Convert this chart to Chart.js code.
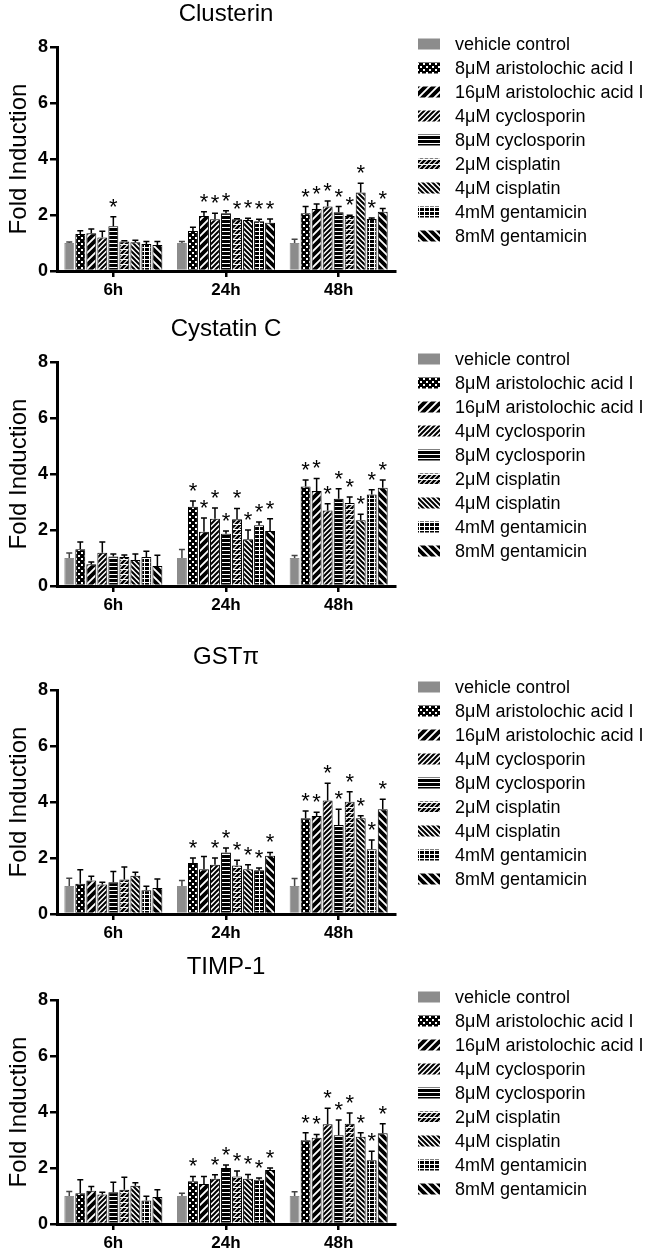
<!DOCTYPE html>
<html>
<head>
<meta charset="utf-8">
<script src="https://cdn.jsdelivr.net/npm/chart.js@4.4.1/dist/chart.umd.min.js"></script>
<style>
    html, body { margin: 0; padding: 0; background: #fff; width: 650px; height: 1250px; overflow: hidden; }
    .panel { position: absolute; left: 0; width: 650px; height: 310px; }
</style>
</head>
<body>
<div class="panel" style="top:0px"><canvas id="chart1" width="650" height="310"></canvas></div>
<div class="panel" style="top:315px"><canvas id="chart2" width="650" height="310"></canvas></div>
<div class="panel" style="top:643px"><canvas id="chart3" width="650" height="310"></canvas></div>
<div class="panel" style="top:953px"><canvas id="chart4" width="650" height="310"></canvas></div>
<script>
const timepoints = ['6h', '24h', '48h'];
const treatments = [
    'vehicle control',
    '8\u03bcM aristolochic acid I',
    '16\u03bcM aristolochic acid I',
    '4\u03bcM cyclosporin',
    '8\u03bcM cyclosporin',
    '2\u03bcM cisplatin',
    '4\u03bcM cisplatin',
    '4mM gentamicin',
    '8mM gentamicin'
];
const yTicks = [0, 2, 4, 6, 8];

// rows = timepoints, columns = treatments
const clusterinMean = [
    [1.0, 1.32, 1.35, 1.2, 1.6, 1.05, 1.03, 0.96, 0.93],
    [1.0, 1.43, 1.96, 1.85, 2.06, 1.85, 1.82, 1.78, 1.72],
    [1.0, 2.06, 2.21, 2.3, 2.1, 1.96, 2.8, 1.86, 2.12]
];
const clusterinErr = [
    [0.04, 0.12, 0.15, 0.22, 0.34, 0.03, 0.07, 0.09, 0.12],
    [0.05, 0.13, 0.16, 0.21, 0.09, 0.02, 0.06, 0.07, 0.14],
    [0.13, 0.24, 0.18, 0.2, 0.2, 0.03, 0.33, 0.03, 0.11]
];
const clusterinStars = [
    [0, 0, 0, 0, 1, 0, 0, 0, 0],
    [0, 0, 1, 1, 1, 1, 1, 1, 1],
    [0, 1, 1, 1, 1, 1, 1, 1, 1]
];

const cystatinMean = [
    [1.0, 1.31, 0.78, 1.19, 1.05, 1.04, 0.93, 1.04, 0.71],
    [1.0, 2.83, 1.94, 2.4, 1.87, 2.38, 1.67, 2.17, 1.96],
    [1.0, 3.55, 3.39, 2.7, 3.12, 2.96, 2.35, 3.27, 3.51]
];
const cystatinErr = [
    [0.18, 0.26, 0.08, 0.38, 0.09, 0.07, 0.21, 0.2, 0.39],
    [0.3, 0.21, 0.49, 0.39, 0.09, 0.39, 0.33, 0.12, 0.44],
    [0.09, 0.24, 0.45, 0.24, 0.35, 0.22, 0.21, 0.17, 0.28]
];
const cystatinStars = [
    [0, 0, 0, 0, 0, 0, 0, 0, 0],
    [0, 1, 1, 1, 1, 1, 1, 1, 1],
    [0, 1, 1, 1, 1, 1, 1, 1, 1]
];

const gstMean = [
    [1.0, 1.08, 1.2, 1.05, 1.13, 1.23, 1.37, 0.85, 0.93],
    [1.0, 1.82, 1.6, 1.76, 2.2, 1.73, 1.6, 1.56, 2.08],
    [1.0, 3.42, 3.5, 4.05, 3.18, 4.01, 3.42, 2.31, 3.74]
];
const gstErr = [
    [0.28, 0.5, 0.15, 0.08, 0.39, 0.45, 0.12, 0.14, 0.32],
    [0.2, 0.18, 0.45, 0.24, 0.16, 0.19, 0.16, 0.08, 0.12],
    [0.27, 0.26, 0.13, 0.62, 0.56, 0.36, 0.09, 0.33, 0.36]
];
const gstStars = [
    [0, 0, 0, 0, 0, 0, 0, 0, 0],
    [0, 1, 0, 1, 1, 1, 1, 1, 1],
    [0, 1, 1, 1, 1, 1, 1, 1, 1]
];

const timpMean = [
    [1.0, 1.1, 1.19, 1.05, 1.13, 1.22, 1.37, 0.84, 0.96],
    [1.0, 1.53, 1.43, 1.62, 2.0, 1.7, 1.62, 1.58, 1.93],
    [1.0, 2.99, 3.08, 3.56, 3.17, 3.58, 3.12, 2.28, 3.24]
];
const timpErr = [
    [0.16, 0.48, 0.15, 0.08, 0.36, 0.45, 0.1, 0.15, 0.26],
    [0.1, 0.17, 0.27, 0.14, 0.11, 0.19, 0.15, 0.06, 0.07],
    [0.15, 0.27, 0.12, 0.57, 0.54, 0.38, 0.14, 0.32, 0.34]
];
const timpStars = [
    [0, 0, 0, 0, 0, 0, 0, 0, 0],
    [0, 1, 0, 1, 1, 1, 1, 1, 1],
    [0, 1, 1, 1, 1, 1, 1, 1, 1]
];

const FONT = '"Liberation Sans", Arial, sans-serif';

// hatch fills, one per treatment
function stripes(size, width, back) {
    const c = document.createElement('canvas');
    c.width = size; c.height = size;
    const g = c.getContext('2d');
    g.fillStyle = '#fff';
    g.fillRect(0, 0, size, size);
    g.strokeStyle = '#000';
    g.lineWidth = width;
    g.beginPath();
    if (back) {
        g.moveTo(-size, 0); g.lineTo(size, 2 * size);
        g.moveTo(0, 0); g.lineTo(size, size);
        g.moveTo(0, -size); g.lineTo(2 * size, size);
    } else {
        g.moveTo(-size, size); g.lineTo(size, -size);
        g.moveTo(0, size); g.lineTo(size, 0);
        g.moveTo(0, 2 * size); g.lineTo(2 * size, 0);
    }
    g.stroke();
    return c;
}

function makePattern(kind) {
    let c = document.createElement('canvas');
    let g;
    if (kind === 'dots') {
        c.width = 6; c.height = 6;
        g = c.getContext('2d');
        g.fillStyle = '#000'; g.fillRect(0, 0, 6, 6);
        g.fillStyle = '#fff';
        g.fillRect(0, 0, 2, 2);
        g.fillRect(3, 3, 2, 2);
    } else if (kind === 'wideFwd') {
        c = stripes(8, 3.8, false);
    } else if (kind === 'thinFwd') {
        c = stripes(5, 2, false);
    } else if (kind === 'dashFwd') {
        c = stripes(5, 2.4, false);
        g = c.getContext('2d');
        g.fillStyle = '#fff';
        g.fillRect(0, 4, 5, 1);
    } else if (kind === 'thinBack') {
        c = stripes(5, 2, true);
    } else if (kind === 'wideBack') {
        c = stripes(8, 3.8, true);
    } else if (kind === 'hlines') {
        c.width = 4; c.height = 4;
        g = c.getContext('2d');
        g.fillStyle = '#000'; g.fillRect(0, 0, 4, 4);
        g.fillStyle = '#fff'; g.fillRect(0, 3, 4, 1);
    } else if (kind === 'grid') {
        c.width = 5; c.height = 4;
        g = c.getContext('2d');
        g.fillStyle = '#000'; g.fillRect(0, 0, 5, 4);
        g.fillStyle = '#fff';
        g.fillRect(0, 3, 5, 1);
        g.fillRect(4, 0, 1, 4);
    }
    return c.getContext('2d').createPattern(c, 'repeat');
}

const fills = [
    '#8c8c8c',
    makePattern('dots'),
    makePattern('wideFwd'),
    makePattern('thinFwd'),
    makePattern('hlines'),
    makePattern('dashFwd'),
    makePattern('thinBack'),
    makePattern('grid'),
    makePattern('wideBack')
];

// error bars, asterisks and the legend on the right
const extras = {
    id: 'extras',
    afterDatasetsDraw(chart) {
        const ctx = chart.ctx;
        const y = chart.scales.y;
        ctx.save();
        chart.data.datasets.forEach((ds, i) => {
            const meta = chart.getDatasetMeta(i);
            meta.data.forEach((bar, j) => {
                const top = y.getPixelForValue(ds.data[j] + ds.errors[j]);
                ctx.strokeStyle = i === 0 ? '#444' : '#000';
                ctx.lineWidth = 1.5;
                ctx.beginPath();
                ctx.moveTo(bar.x, bar.y);
                ctx.lineTo(bar.x, top);
                ctx.moveTo(bar.x - 3, top);
                ctx.lineTo(bar.x + 3, top);
                ctx.stroke();
                if (ds.stars[j]) {
                    ctx.fillStyle = '#000';
                    ctx.font = '22px ' + FONT;
                    ctx.textAlign = 'center';
                    ctx.textBaseline = 'alphabetic';
                    ctx.fillText('*', bar.x, top - 3);
                }
            });
        });
        ctx.restore();
    },
    afterDraw(chart) {
        const ctx = chart.ctx;
        const y0 = chart.chartArea.top - 3;
        ctx.save();
        ctx.font = '18px ' + FONT;
        ctx.textAlign = 'left';
        ctx.textBaseline = 'middle';
        chart.data.datasets.forEach((ds, i) => {
            const yy = y0 + i * 24;
            ctx.fillStyle = ds.backgroundColor;
            ctx.fillRect(418, yy - 5.5, 22, 11);
            ctx.fillStyle = '#000';
            ctx.fillText(ds.label, 455, yy + 1);
        });
        ctx.restore();
    }
};

function drawPanel(id, title, mean, err, stars) {
    const ctx = document.getElementById(id).getContext('2d');
    const datasets = treatments.map((name, i) => ({
        label: name,
        data: mean.map(row => row[i]),
        errors: err.map(row => row[i]),
        stars: stars.map(row => row[i]),
        backgroundColor: fills[i],
        borderColor: i === 0 ? '#8c8c8c' : '#000',
        borderWidth: 1,
        categoryPercentage: 0.88,
        barPercentage: 0.9
    }));
    new Chart(ctx, {
        type: 'bar',
        data: { labels: timepoints, datasets: datasets },
        options: {
            responsive: false,
            animation: false,
            layout: { padding: { left: 0, right: 255, top: 0, bottom: 0 } },
            plugins: {
                legend: { display: false },
                tooltip: { enabled: false },
                title: {
                    display: true,
                    text: title,
                    fullSize: false,
                    color: '#000',
                    font: { family: FONT, size: 24, weight: 'normal' },
                    padding: { top: 0, bottom: 18.2 }
                }
            },
            scales: {
                x: {
                    afterFit(scale) { scale.height = 39; },
                    grid: { display: true, drawOnChartArea: false, drawTicks: true, tickLength: 6, offset: false, color: '#000', lineWidth: 2.5 },
                    border: { display: true, color: '#000', width: 3 },
                    ticks: { color: '#000', font: { family: FONT, size: 17, weight: 'bold' }, padding: 3 }
                },
                y: {
                    min: 0,
                    max: 8,
                    afterFit(scale) { scale.width = 57; },
                    afterBuildTicks(scale) { scale.ticks = yTicks.map(v => ({ value: v })); },
                    grid: { display: true, drawOnChartArea: false, drawTicks: true, tickLength: 7, color: '#000', lineWidth: 2.5 },
                    border: { display: true, color: '#000', width: 3 },
                    ticks: { color: '#000', font: { family: FONT, size: 18, weight: 'bold' }, padding: 2 },
                    title: {
                        display: true,
                        text: 'Fold Induction',
                        color: '#000',
                        font: { family: FONT, size: 24, weight: 'normal' },
                        padding: { top: 5, bottom: 0 }
                    }
                }
            }
        },
        plugins: [extras]
    });
}

drawPanel('chart1', 'Clusterin', clusterinMean, clusterinErr, clusterinStars);
drawPanel('chart2', 'Cystatin C', cystatinMean, cystatinErr, cystatinStars);
drawPanel('chart3', 'GST\u03c0', gstMean, gstErr, gstStars);
drawPanel('chart4', 'TIMP-1', timpMean, timpErr, timpStars);
</script>
</body>
</html>
